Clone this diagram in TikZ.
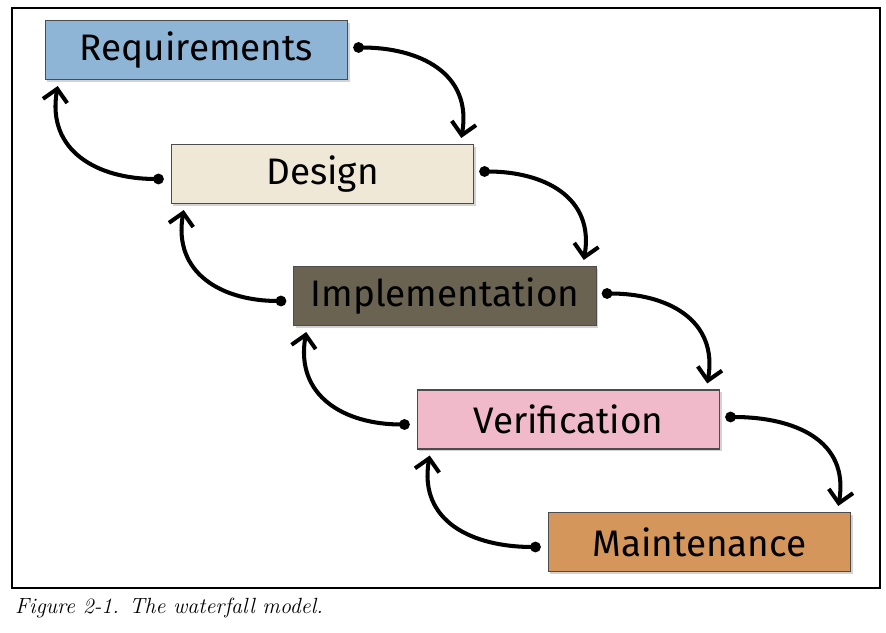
\documentclass[tikz,border=0pt]{standalone}
\usepackage{fontspec}
\setsansfont{Fira Sans}
\usetikzlibrary{arrows.meta,shadows,calc}

\definecolor{reqblue}{RGB}{143,181,214}
\definecolor{designcream}{RGB}{240,232,214}
\definecolor{implbrown}{RGB}{107,99,82}
\definecolor{verifpink}{RGB}{240,186,202}
\definecolor{maintorange}{RGB}{212,150,90}

\begin{document}
\begin{tikzpicture}[
    phase/.style={draw=black!70, line width=0.6pt, minimum width=6.05cm, minimum height=1.18cm,
      font=\sffamily\fontsize{21}{25}\selectfont,
      drop shadow={shadow xshift=0.04cm, shadow yshift=-0.05cm, opacity=0.35}},
    flow/.style={line width=2.3pt, looseness=1.2,
      {Circle[length=6pt]}-{Straight Barb[length=7pt,width=14pt]}}]

    \useasboundingbox (0,0) rectangle (17.72,12.64);
    \draw[line width=0.6pt] (0.24,0.88) rectangle (17.6,12.48);

    \node[phase, fill=reqblue]     (Req)    at (3.93,11.64) {Requirements};
    \node[phase, fill=designcream] (Design) at (6.45,9.16)  {Design};
    \node[phase, fill=implbrown]   (Impl)   at (8.90,6.72)  {Implementation};
    \node[phase, fill=verifpink]   (Verif)  at (11.37,4.25) {Verification};
    \node[phase, fill=maintorange] (Maint)  at (13.99,1.80) {Maintenance};

    \node[anchor=west, font=\itshape\fontsize{12.5}{15}\selectfont] (Caption) at (0.18,0.48)
      {Figure 2-1. The waterfall model.};

    \draw[flow] ($(Req.east)+(0.1,0.05)$)    to[out=0,in=80] ($(Design.north east)+(-0.26,0.12)$);
    \draw[flow] ($(Design.east)+(0.1,0.05)$) to[out=0,in=80] ($(Impl.north east)+(-0.26,0.12)$);
    \draw[flow] ($(Impl.east)+(0.1,0.05)$)   to[out=0,in=80] ($(Verif.north east)+(-0.26,0.12)$);
    \draw[flow] ($(Verif.east)+(0.1,0.05)$)  to[out=0,in=80] ($(Maint.north east)+(-0.26,0.12)$);

    \draw[flow] ($(Design.west)+(-0.14,-0.1)$) to[out=180,in=-100] ($(Req.south west)+(0.26,-0.12)$);
    \draw[flow] ($(Impl.west)+(-0.14,-0.1)$)   to[out=180,in=-100] ($(Design.south west)+(0.26,-0.12)$);
    \draw[flow] ($(Verif.west)+(-0.14,-0.1)$)  to[out=180,in=-100] ($(Impl.south west)+(0.26,-0.12)$);
    \draw[flow] ($(Maint.west)+(-0.14,-0.1)$)  to[out=180,in=-100] ($(Verif.south west)+(0.26,-0.12)$);
  \end{tikzpicture}
\end{document}
